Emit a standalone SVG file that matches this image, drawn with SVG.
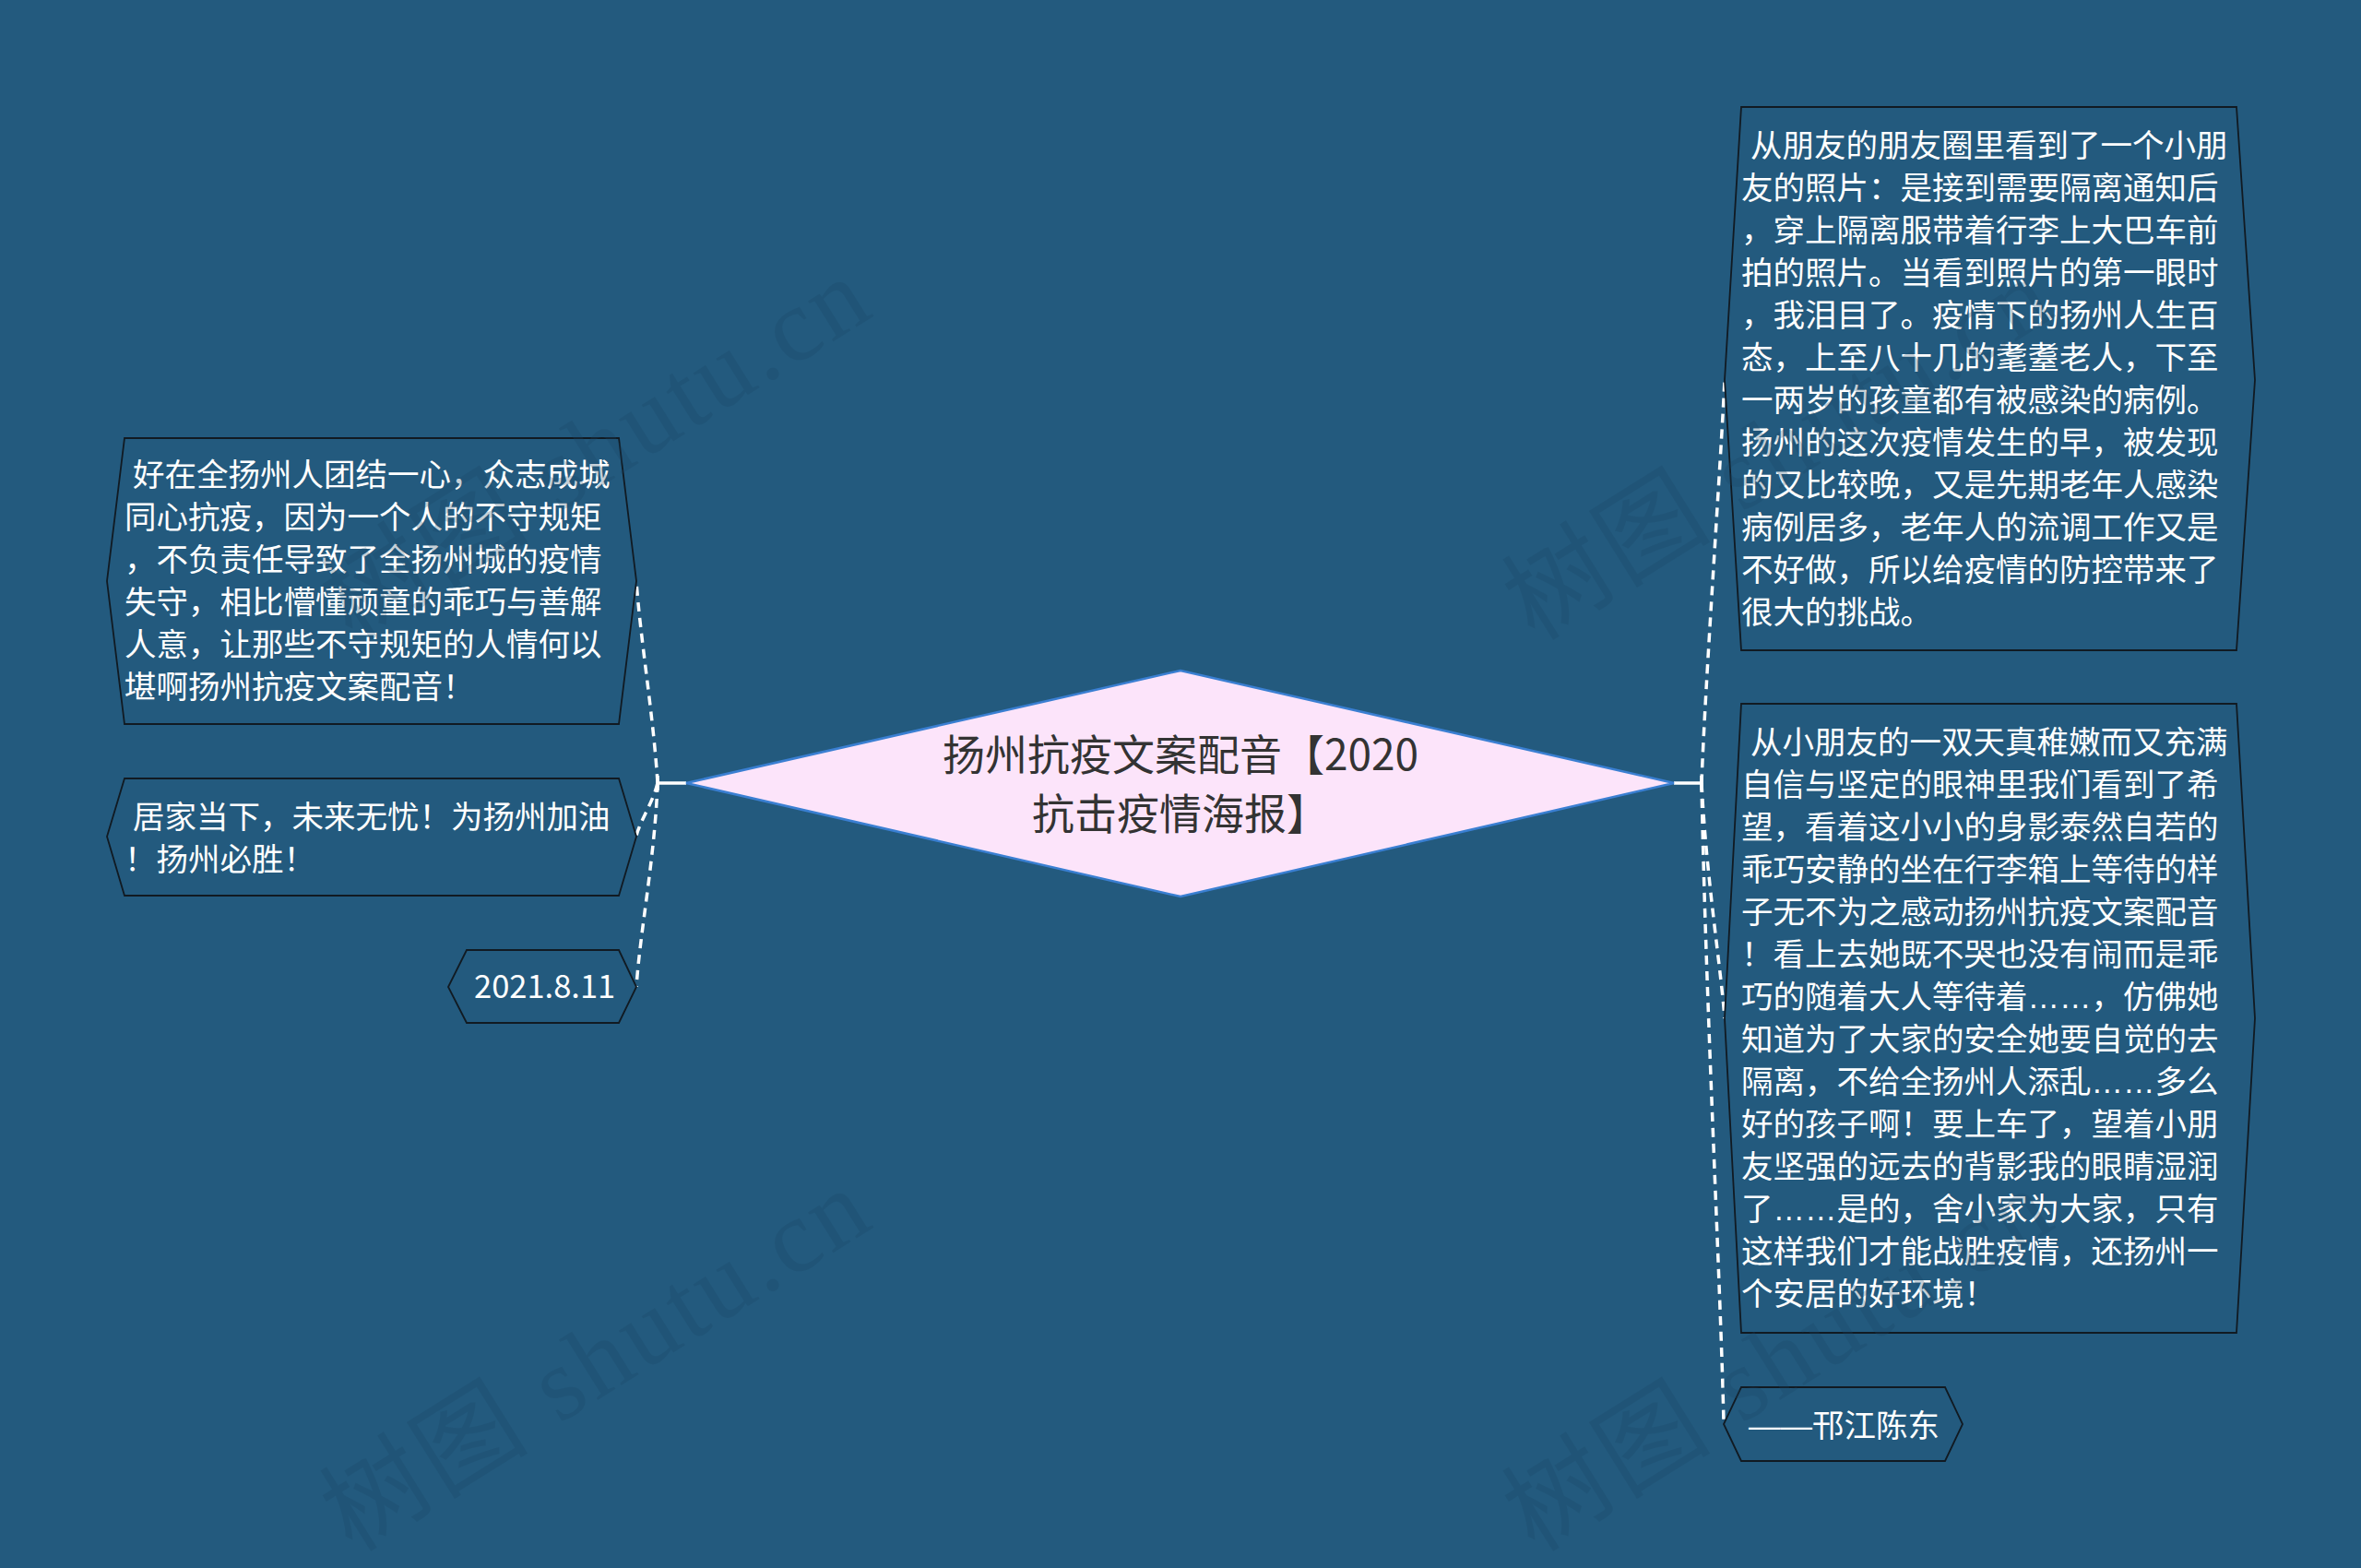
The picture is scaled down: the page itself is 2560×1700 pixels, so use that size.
<svg xmlns="http://www.w3.org/2000/svg" width="2560" height="1700" viewBox="0 0 2560 1700">
<style>
.bg{fill:#235a7e}
.node{fill:#235a7e;stroke:#111a22;stroke-width:1.8}
.t{font-family:"Noto Sans CJK SC","Noto Sans",sans-serif;font-size:34.5px;fill:#ffffff}
.lat{font-family:"Liberation Sans","Noto Sans CJK SC",sans-serif}
.ct{font-family:"Noto Sans CJK SC","Noto Sans",sans-serif;font-size:46px;fill:#333333;text-anchor:middle}
.dash{fill:none;stroke:#ffffff;stroke-width:3.5;stroke-dasharray:10 7}
.solid{fill:none;stroke:#ffffff;stroke-width:3.5}
.wm{font-family:"Liberation Serif","Noto Sans CJK SC",serif;font-size:112px;letter-spacing:4px;fill:#1a4563;opacity:0.25}
</style>
<rect class="bg" x="0" y="0" width="2560" height="1700"/>

<g id="connectors">
  <path class="solid" d="M713,849 H744 M713,841 V857"/>
  <path class="solid" d="M1815,849 H1845 M1845,841 V857"/>
  <path class="dash" d="M713,849 C709,780 694,690 690,630"/>
  <path class="dash" d="M713,849 C708,870 694,890 690,906"/>
  <path class="dash" d="M713,849 C710,930 694,1010 690,1070"/>
  <path class="dash" d="M1845,849 C1849,740 1866,500 1870,412"/>
  <path class="dash" d="M1845,849 C1850,950 1866,1050 1870,1104"/>
  <path class="dash" d="M1845,849 C1850,1100 1866,1400 1869,1544"/>
</g>

<g id="center">
  <polygon points="744,849 1280,727 1815,849 1280,972" fill="#fce4fa" stroke="#3a7fd2" stroke-width="2.5"/>
  <text class="ct" x="1280" y="835">扬州抗疫文案配音【2020</text>
  <text class="ct" x="1280" y="899">抗击疫情海报】</text>
</g>

<g id="node-left-1">
  <polygon class="node" points="135,475 671,475 690,630 671,785 135,785 116,630"/>
  <text class="t" x="144" y="527">好在全扬州人团结一心，众志成城</text>
  <text class="t" x="135" y="573">同心抗疫，因为一个人的不守规矩</text>
  <text class="t" x="135" y="619">，不负责任导致了全扬州城的疫情</text>
  <text class="t" x="135" y="665">失守，相比懵懂顽童的乖巧与善解</text>
  <text class="t" x="135" y="711">人意，让那些不守规矩的人情何以</text>
  <text class="t" x="135" y="757">堪啊扬州抗疫文案配音！</text>
</g>

<g id="node-left-2">
  <polygon class="node" points="135,844 671,844 690,907 671,971 135,971 116,907"/>
  <text class="t" x="144" y="898">居家当下，未来无忧！为扬州加油</text>
  <text class="t" x="135" y="944">！扬州必胜！</text>
</g>

<g id="node-left-3">
  <polygon class="node" points="506,1030 671,1030 690,1070 671,1109 506,1109 486,1070"/>
  <text class="t" x="514" y="1082">2021.8.11</text>
</g>

<g id="node-right-1">
  <polygon class="node" points="1888,116 2425,116 2445,412 2425,705 1888,705 1870,412"/>
  <text class="t" x="1898" y="170">从朋友的朋友圈里看到了一个小朋</text>
  <text class="t" x="1888" y="216">友的照片：是接到需要隔离通知后</text>
  <text class="t" x="1888" y="262">，穿上隔离服带着行李上大巴车前</text>
  <text class="t" x="1888" y="308">拍的照片。当看到照片的第一眼时</text>
  <text class="t" x="1888" y="354">，我泪目了。疫情下的扬州人生百</text>
  <text class="t" x="1888" y="400">态，上至八十几的耄耋老人，下至</text>
  <text class="t" x="1888" y="446">一两岁的孩童都有被感染的病例。</text>
  <text class="t" x="1888" y="492">扬州的这次疫情发生的早，被发现</text>
  <text class="t" x="1888" y="538">的又比较晚，又是先期老年人感染</text>
  <text class="t" x="1888" y="584">病例居多，老年人的流调工作又是</text>
  <text class="t" x="1888" y="630">不好做，所以给疫情的防控带来了</text>
  <text class="t" x="1888" y="676">很大的挑战。</text>
</g>

<g id="node-right-2">
  <polygon class="node" points="1888,763 2425,763 2445,1104 2425,1445 1888,1445 1870,1104"/>
  <text class="t" x="1898" y="817">从小朋友的一双天真稚嫩而又充满</text>
  <text class="t" x="1888" y="863">自信与坚定的眼神里我们看到了希</text>
  <text class="t" x="1888" y="909">望，看着这小小的身影泰然自若的</text>
  <text class="t" x="1888" y="955">乖巧安静的坐在行李箱上等待的样</text>
  <text class="t" x="1888" y="1001">子无不为之感动扬州抗疫文案配音</text>
  <text class="t" x="1888" y="1047">！看上去她既不哭也没有闹而是乖</text>
  <text class="t" x="1888" y="1093">巧的随着大人等待着<tspan class="lat">……</tspan>，仿佛她</text>
  <text class="t" x="1888" y="1139">知道为了大家的安全她要自觉的去</text>
  <text class="t" x="1888" y="1185">隔离，不给全扬州人添乱<tspan class="lat">……</tspan>多么</text>
  <text class="t" x="1888" y="1231">好的孩子啊！要上车了，望着小朋</text>
  <text class="t" x="1888" y="1277">友坚强的远去的背影我的眼睛湿润</text>
  <text class="t" x="1888" y="1323">了<tspan class="lat">……</tspan>是的，舍小家为大家，只有</text>
  <text class="t" x="1888" y="1369">这样我们才能战胜疫情，还扬州一</text>
  <text class="t" x="1888" y="1415">个安居的好环境！</text>
</g>

<g id="node-right-3">
  <polygon class="node" points="1888,1504 2109,1504 2128,1544 2109,1584 1888,1584 1869,1544"/>
  <text class="t" x="1896" y="1558"><tspan class="lat">——</tspan>邗江陈东</text>
</g>

<g id="watermarks">
  <text class="wm" transform="translate(382,1684) rotate(-32)">树图 shutu.cn</text>
  <text class="wm" transform="translate(1664,1684) rotate(-32)">树图 shutu.cn</text>
  <text class="wm" transform="translate(382,696) rotate(-32)">树图 shutu.cn</text>
  <text class="wm" transform="translate(1664,696) rotate(-32)">树图 shutu.cn</text>
</g>
</svg>
